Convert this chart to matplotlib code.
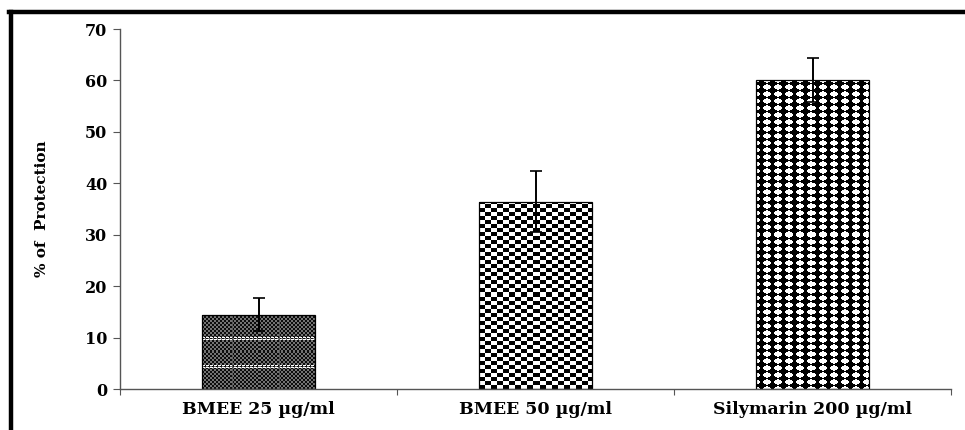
import numpy as np
import matplotlib
matplotlib.use('Agg')
import matplotlib.pyplot as plt
from matplotlib.lines import Line2D
from matplotlib.ticker import FixedLocator

groups = ['BMEE 25 \u00b5g/ml', 'BMEE 50 \u00b5g/ml', 'Silymarin 200 \u00b5g/ml']
protection = [14.4, 36.4, 60.1]
sd = [3.2, 5.9, 4.2]
yticks = [0, 10, 20, 30, 40, 50, 60, 70]


def texture(kind, w, h):
    # grey-level fill pattern, one value per screen pixel
    yy, xx = np.mgrid[0:h, 0:w]
    up = h - 1 - yy  # pixel rows counted from the bar's base
    if kind == 'fine':
        img = np.where(((xx // 2) + (yy // 2)) % 2 == 0, 0.05, 0.45)
        for r in (21, 23, 48, 50):
            img[(up == r) & (xx % 4 < 3)] = 1.0
        img[:, xx[0] % 46 == 30] = 0.35
    elif kind == 'checker':
        img = np.where(((xx // 6) + (up // 4)) % 2 == 0, 0.0, 1.0)
    else:
        cx = (xx % 11) - 5
        cy = (up % 7) - 3
        img = np.where(np.abs(cx) / 5.8 + np.abs(cy) / 3.9 < 1.0, 0.0, 1.0)
    return img


plt.rcParams['font.family'] = ['DejaVu Serif']
plt.rcParams['font.weight'] = 'bold'

fig = plt.figure(figsize=(9.65, 4.3), dpi=100)
ax = fig.add_axes([120 / 965, 41 / 430, 831 / 965, 360 / 430])

x = np.arange(len(groups))
bars = ax.bar(x, protection, width=0.405, facecolor='none', edgecolor='black',
              linewidth=0.9, zorder=2)
ax.errorbar(x, protection, yerr=sd, fmt='none', ecolor='black',
            elinewidth=1.4, capsize=4, capthick=1.2, zorder=4)

ax.set_xlim(-0.5, len(groups) - 0.5)
ax.set_ylim(0, 70)
ax.set_yticks(yticks)
ax.set_xticks(x)
ax.set_xticklabels(groups, fontsize=12.5, fontweight='bold')
ax.xaxis.set_minor_locator(FixedLocator(np.arange(-0.5, len(groups), 1.0)))
ax.tick_params(axis='x', which='major', length=0, pad=9)
ax.tick_params(axis='x', which='minor', length=4, width=0.8, color='#555555')
ax.tick_params(axis='y', length=5, width=0.8, color='#555555', labelsize=11.5, pad=4)
for lab in ax.get_yticklabels():
    lab.set_fontweight('bold')
ax.set_ylabel('% of  Protection', fontsize=11, fontweight='bold', labelpad=26)

for side in ['top', 'right']:
    ax.spines[side].set_visible(False)
for side in ['left', 'bottom']:
    ax.spines[side].set_color('#555555')
    ax.spines[side].set_linewidth(1.0)

fig.canvas.draw()
renderer = fig.canvas.get_renderer()
for bar, kind in zip(bars, ['fine', 'checker', 'diamond']):
    ext = bar.get_window_extent(renderer)
    img = texture(kind, int(round(ext.width)), int(round(ext.height)))
    im = ax.imshow(img, cmap='gray', vmin=0, vmax=1, interpolation='nearest',
                   extent=[bar.get_x(), bar.get_x() + bar.get_width(), 0, bar.get_height()],
                   aspect='auto', zorder=1.5)
    im.set_clip_path(bar)
ax.set_aspect('auto')
ax.set_xlim(-0.5, len(groups) - 0.5)
ax.set_ylim(0, 70)

# heavy frame round the picture (only top and left edges show)
fig.add_artist(Line2D([10.5 / 965, 10.5 / 965], [0, 1 - 12 / 430], color='black', lw=3.2))
fig.add_artist(Line2D([9 / 965, 1], [1 - 12 / 430, 1 - 12 / 430], color='black', lw=3.2))

fig.savefig('out.png', dpi=100)
